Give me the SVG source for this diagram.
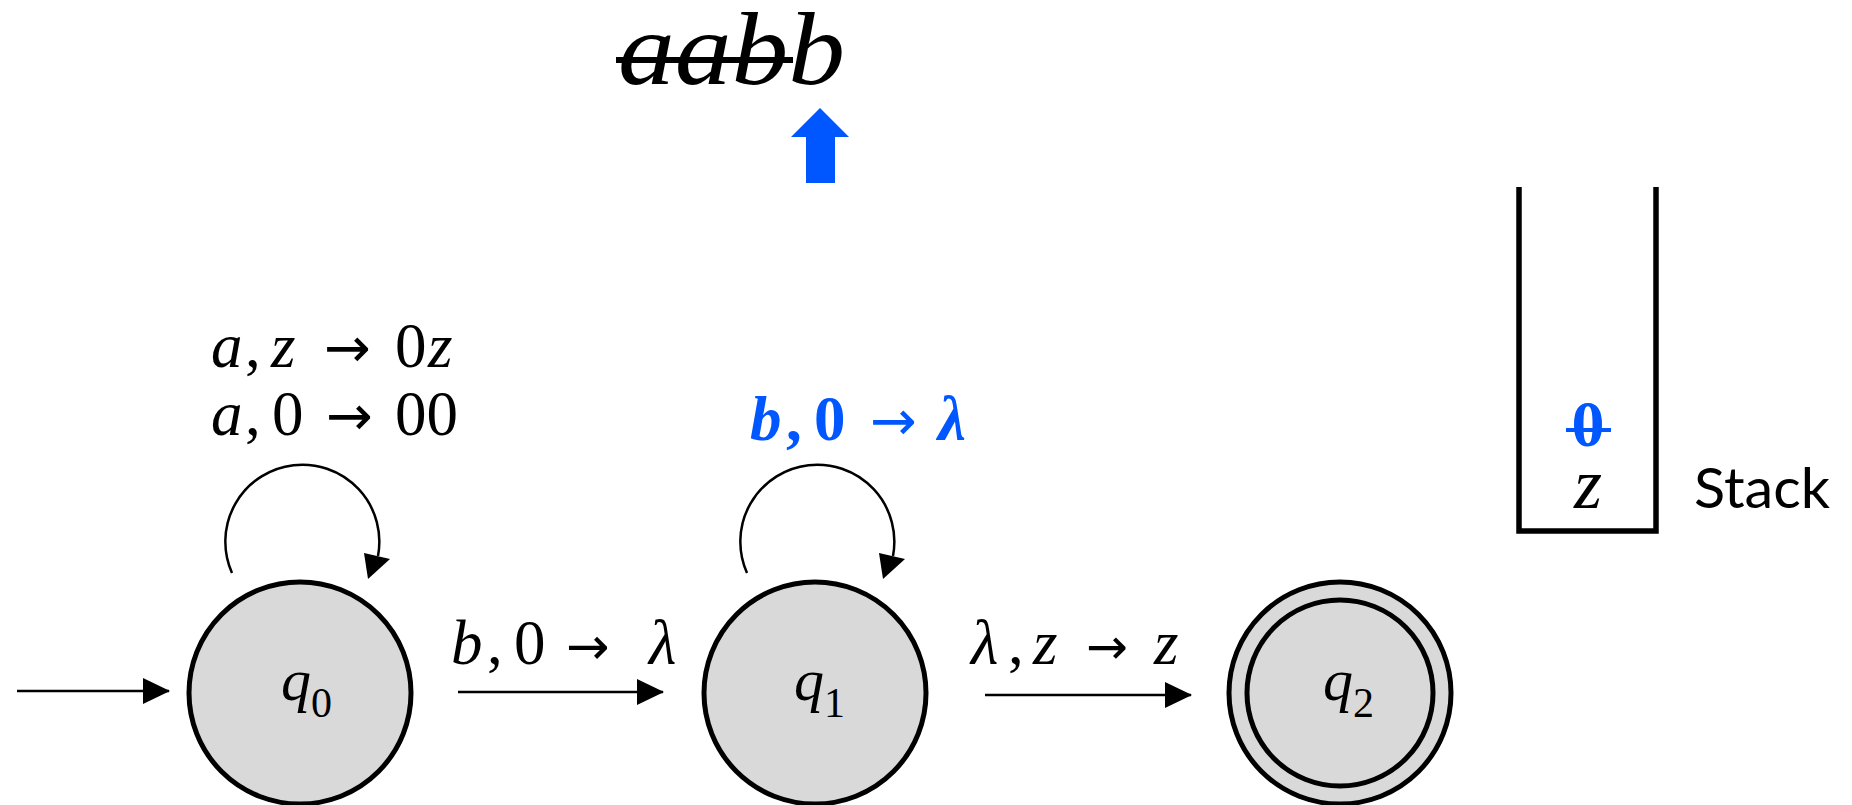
<svg xmlns="http://www.w3.org/2000/svg" width="1852" height="805" viewBox="0 0 1852 805">
<style>
.state{fill:#d9d9d9;stroke:#000;stroke-width:5}
.edge{stroke:#000;stroke-width:2.5;fill:none}
.m{font-family:"Liberation Serif",serif;font-size:63px;fill:#000}
.i{font-style:italic}
.ar{font-family:"DejaVu Sans",sans-serif;font-style:normal;font-weight:normal}
.blue{fill:#0057ff}
.lbl{font-family:"Liberation Serif",serif;font-size:60px;fill:#000}
.sub{font-size:42px}
</style>
<defs>
<marker id="ah" markerUnits="userSpaceOnUse" markerWidth="27" markerHeight="26" refX="26" refY="13" orient="auto"><path d="M0,0 L27,13 L0,26 z" fill="#000"/></marker>
</defs>
<g id="input">
<text x="618" y="84" font-family="Liberation Serif, serif" font-style="italic" font-size="104" textLength="227" lengthAdjust="spacingAndGlyphs">aabb</text>
<line x1="616" y1="60" x2="793" y2="60" stroke="#000" stroke-width="6"/>
<polygon points="820,108 849,137 835,137 835,183 806,183 806,137 791,137" fill="#0057ff"/>
</g>
<g id="stack">
<polyline points="1519,187 1519,531 1656,531 1656,187" fill="none" stroke="#000" stroke-width="5.5"/>
<text x="1588" y="446" text-anchor="middle" font-family="Liberation Serif, serif" font-weight="bold" font-size="66" fill="#0057ff">0</text>
<line x1="1566" y1="430" x2="1611" y2="430" stroke="#0057ff" stroke-width="4"/>
<text x="1588" y="508" text-anchor="middle" font-family="Liberation Serif, serif" font-style="italic" font-size="72">z</text>
<text x="1694" y="508" font-family="Lato, sans-serif" font-size="57" textLength="136" lengthAdjust="spacingAndGlyphs">Stack</text>
</g>
<g id="q0">
<circle class="state" cx="300" cy="693" r="111"/>
<text class="lbl" x="281" y="700"><tspan font-style="italic">q</tspan><tspan class="sub" dy="17">0</tspan></text>
</g>
<g id="q1">
<circle class="state" cx="815" cy="693" r="111"/>
<text class="lbl" x="794" y="700"><tspan font-style="italic">q</tspan><tspan class="sub" dy="17">1</tspan></text>
</g>
<g id="q2">
<circle class="state" cx="1340" cy="693" r="111"/>
<circle class="state" cx="1340" cy="693" r="93"/>
<text class="lbl" x="1323" y="700"><tspan font-style="italic">q</tspan><tspan class="sub" dy="17">2</tspan></text>
</g>
<g id="connectors">
<line class="edge" x1="17" y1="691" x2="169" y2="691" marker-end="url(#ah)"/>
<line class="edge" x1="458" y1="692" x2="663" y2="692" marker-end="url(#ah)"/>
<line class="edge" x1="985" y1="695" x2="1191" y2="695" marker-end="url(#ah)"/>
<path class="edge" d="M232,573 A77,77 0 1,1 378,556"/>
<polygon points="368,579 364,553 390,559" fill="#000"/>
<path class="edge" d="M747,573 A77,77 0 1,1 893,556"/>
<polygon points="883,579 879,553 905,559" fill="#000"/>
</g>
<g id="labels">
<text class="m" y="367"><tspan class="i" x="211">a</tspan><tspan x="245">,</tspan><tspan class="i" x="271">z</tspan><tspan class="ar" x="324" font-size="56">→</tspan><tspan x="395">0</tspan><tspan class="i" x="428">z</tspan></text>
<text class="m" y="435"><tspan class="i" x="211">a</tspan><tspan x="245">,</tspan><tspan x="272">0</tspan><tspan class="ar" x="326" font-size="56">→</tspan><tspan x="395">00</tspan></text>
<text class="m blue" y="440" font-weight="bold"><tspan class="i" x="750">b</tspan><tspan x="786">,</tspan><tspan x="814">0</tspan><tspan class="ar" x="870" font-size="56">→</tspan><tspan class="i" x="938">λ</tspan></text>
<text class="m" y="664"><tspan class="i" x="451">b</tspan><tspan x="487">,</tspan><tspan x="514">0</tspan><tspan class="ar" x="566" font-size="52">→</tspan><tspan class="i" x="649">λ</tspan></text>
<text class="m" y="664"><tspan class="i" x="971">λ</tspan><tspan x="1008">,</tspan><tspan class="i" x="1033">z</tspan><tspan class="ar" x="1086" font-size="50">→</tspan><tspan class="i" x="1154">z</tspan></text>
</g>
</svg>
